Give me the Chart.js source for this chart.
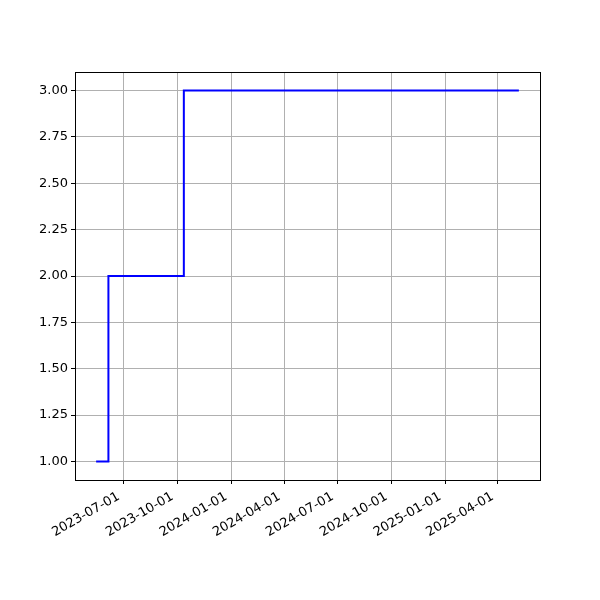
<!DOCTYPE HTML>
<html>
<head>
    <script src="https://cdn.jsdelivr.net/npm/chart.js"></script>
</head>
<body>
<style>
    * {
        margin: 0;
        padding: 0;
        box-sizing: border-box;
    }
    body {
        background: #ffffff;
    }
    .chart {
        width: 600px;
        height: 600px;
    }
</style>
<div class="chart">
    <canvas id="myChart" width="600" height="600"></canvas>
</div>
<script>
    // step points (value changes)
    const stepDates = ['2023-05-15', '2023-06-05', '2023-10-12', '2025-05-07'];
    const stepValues = [1, 2, 3, 3];
    const xTickLabels = ['2023-07-01', '2023-10-01', '2024-01-01', '2024-04-01',
        '2024-07-01', '2024-10-01', '2025-01-01', '2025-04-01'];
    const yTickValues = [1.00, 1.25, 1.50, 1.75, 2.00, 2.25, 2.50, 2.75, 3.00];

    const toMs = s => Date.parse(s + 'T00:00:00Z');
    const points = stepDates.map((d, i) => ({x: toMs(d), y: stepValues[i]}));

    const x0 = points[0].x, x1 = points[points.length - 1].x;
    const xPad = (x1 - x0) * 0.05;
    const yLo = Math.min(...stepValues), yHi = Math.max(...stepValues);
    const yPad = (yHi - yLo) * 0.05;

    const frame = {
        id: 'frame',
        afterDraw(chart) {
            const a = chart.chartArea;
            const ctx = chart.ctx;
            ctx.save();
            ctx.strokeStyle = '#000';
            ctx.lineWidth = 1;
            ctx.strokeRect(Math.round(a.left) + 0.5, Math.round(a.top) + 0.5,
                Math.round(a.right - a.left), Math.round(a.bottom - a.top));
            ctx.restore();
        }
    };

    Chart.defaults.font.family = "'DejaVu Sans', sans-serif";
    Chart.defaults.font.size = 13;
    Chart.defaults.color = '#000';

    new Chart(document.getElementById('myChart'), {
        type: 'line',
        data: {
            datasets: [{
                data: points,
                borderColor: '#0000ff',
                borderWidth: 2,
                pointRadius: 0,
                stepped: 'before',
                fill: false
            }]
        },
        options: {
            responsive: false,
            animation: false,
            layout: {padding: {top: 72, right: 60, left: 0, bottom: 0}},
            plugins: {legend: {display: false}, tooltip: {enabled: false}},
            scales: {
                x: {
                    type: 'linear',
                    min: x0 - xPad,
                    max: x1 + xPad,
                    afterBuildTicks: s => { s.ticks = xTickLabels.map(t => ({value: toMs(t)})); },
                    afterFit: s => { s.height = 120; },
                    grid: {color: '#b0b0b0', lineWidth: 1, tickColor: '#000', tickLength: 4},
                    border: {display: false},
                    ticks: {
                        minRotation: 30,
                        maxRotation: 30,
                        autoSkip: false,
                        padding: 5,
                        labelOffset: -5,
                        callback: v => new Date(v).toISOString().slice(0, 10)
                    }
                },
                y: {
                    min: yLo - yPad,
                    max: yHi + yPad,
                    afterBuildTicks: s => { s.ticks = yTickValues.map(v => ({value: v})); },
                    afterFit: s => { s.width = 75; },
                    grid: {color: '#b0b0b0', lineWidth: 1, tickColor: '#000', tickLength: 4},
                    border: {display: false},
                    ticks: {
                        padding: 3,
                        callback: v => v.toFixed(2)
                    }
                }
            }
        },
        plugins: [frame]
    });
</script>
</body>
</html>
